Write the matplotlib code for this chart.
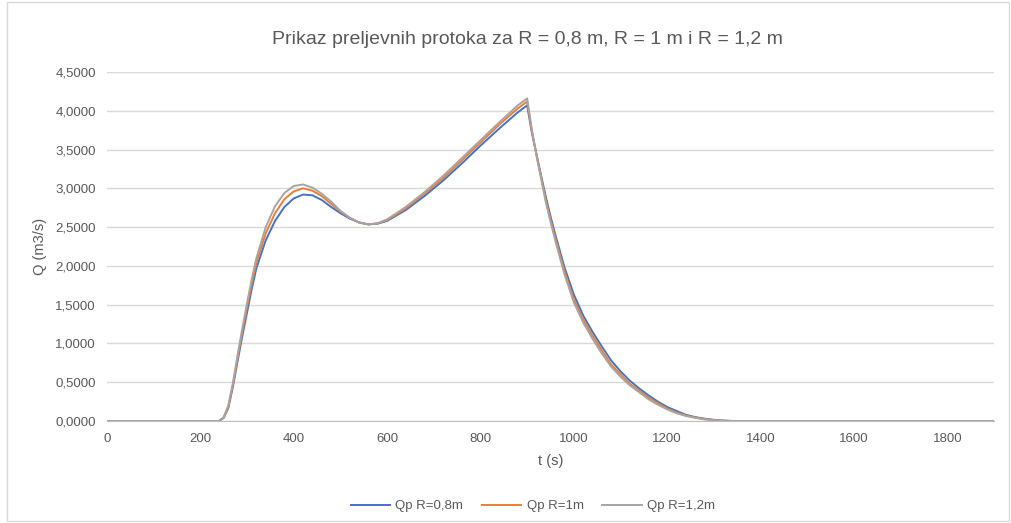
import matplotlib
matplotlib.use("Agg")
from matplotlib import pyplot as plt
from matplotlib.ticker import FuncFormatter, MultipleLocator
from matplotlib.patches import Rectangle

plt.rcParams['font.family'] = ['Liberation Sans', 'DejaVu Sans']

t = [0, 240, 250, 260, 270, 280, 290, 300, 310, 320, 340, 360, 380, 400, 420, 440, 460, 480, 500,
     520, 540, 560, 580, 600, 640, 680, 720, 760, 800, 840, 880, 900, 910, 920, 930, 940, 950, 960,
     980, 1000, 1020, 1040, 1060, 1080, 1100, 1120, 1140, 1160, 1180, 1200, 1220, 1240, 1260, 1280,
     1300, 1320, 1340, 1900]

q_08 = [0, 0, 0.04, 0.17, 0.45, 0.78, 1.10, 1.40, 1.70, 1.97, 2.33, 2.58, 2.76, 2.87, 2.92, 2.91,
        2.85, 2.76, 2.68, 2.61, 2.56, 2.535, 2.545, 2.58, 2.72, 2.90, 3.10, 3.32, 3.55, 3.77, 3.98,
        4.07, 3.72, 3.44, 3.16, 2.89, 2.64, 2.41, 1.98, 1.63, 1.36, 1.15, 0.96, 0.78, 0.64, 0.52,
        0.42, 0.33, 0.25, 0.18, 0.13, 0.08, 0.05, 0.03, 0.015, 0.005, 0, 0]

q_10 = [0, 0, 0.045, 0.19, 0.48, 0.82, 1.16, 1.47, 1.77, 2.04, 2.42, 2.68, 2.86, 2.96, 3.00, 2.97,
        2.90, 2.80, 2.70, 2.62, 2.56, 2.535, 2.548, 2.59, 2.74, 2.93, 3.13, 3.36, 3.59, 3.82, 4.03,
        4.12, 3.74, 3.43, 3.14, 2.85, 2.60, 2.37, 1.93, 1.57, 1.31, 1.10, 0.91, 0.73, 0.60, 0.48,
        0.39, 0.30, 0.23, 0.16, 0.11, 0.07, 0.045, 0.025, 0.012, 0.004, 0, 0]

q_12 = [0, 0, 0.05, 0.20, 0.50, 0.86, 1.20, 1.52, 1.83, 2.10, 2.50, 2.77, 2.94, 3.03, 3.05, 3.01,
        2.93, 2.83, 2.71, 2.62, 2.56, 2.535, 2.55, 2.60, 2.76, 2.95, 3.16, 3.39, 3.62, 3.85, 4.07,
        4.16, 3.76, 3.42, 3.12, 2.82, 2.57, 2.33, 1.89, 1.53, 1.27, 1.06, 0.87, 0.70, 0.57, 0.46,
        0.37, 0.28, 0.21, 0.15, 0.10, 0.065, 0.04, 0.02, 0.01, 0.004, 0, 0]

labels = ['Qp R=0,8m', 'Qp R=1m', 'Qp R=1,2m']
colors = ['#4472C4', '#ED7D31', '#A5A5A5']
txt = '#595959'

fig = plt.figure(figsize=(10.11, 5.23), dpi=100)
ax = fig.add_axes([107 / 1011, 1 - 421 / 523, (994 - 107) / 1011, (421 - 72) / 523])

for q, lab, c in zip([q_08, q_10, q_12], labels, colors):
    ax.plot(t, q, color=c, lw=1.4, label=lab)

ax.set_xlim(0, 1900)
ax.set_ylim(0, 4.5)
ax.xaxis.set_major_locator(MultipleLocator(200))
ax.yaxis.set_major_locator(MultipleLocator(0.5))
ax.yaxis.set_major_formatter(FuncFormatter(lambda v, p: ('%.4f' % v).replace('.', ',')))
ax.xaxis.set_major_formatter(FuncFormatter(lambda v, p: '' if v > 1800 else '%d' % v))
ax.grid(axis='y', color='#D9D9D9', lw=1)
ax.set_axisbelow(True)
for s in ['top', 'right', 'left']:
    ax.spines[s].set_visible(False)
ax.spines['bottom'].set_color('#BFBFBF')
ax.tick_params(length=0, colors=txt, labelsize=9.5)
ax.tick_params(axis='x', pad=9)
ax.tick_params(axis='y', pad=8)

ax.set_xlabel('t (s)', color=txt, fontsize=10.5, labelpad=6)
ax.set_ylabel('Q (m3/s)', color=txt, fontsize=10.5, labelpad=6)
fig.text(0.522, 1 - 40 / 523, 'Prikaz preljevnih protoka za R = 0,8 m, R = 1 m i R = 1,2 m',
         ha='center', va='center', fontsize=14, color=txt)

fig.legend(loc='center', bbox_to_anchor=(0.527, 1 - 506 / 523), ncol=3, frameon=False,
           fontsize=9.5, labelcolor=txt, handlelength=3.0, columnspacing=1.4, handletextpad=0.4)

fig.patches.append(Rectangle((7 / 1011, 2 / 523), 1 - 9 / 1011, 1 - 4 / 523, transform=fig.transFigure,
                             fill=False, edgecolor='#D9D9D9', lw=1))

fig.savefig('out.png', dpi=100, facecolor='white')
